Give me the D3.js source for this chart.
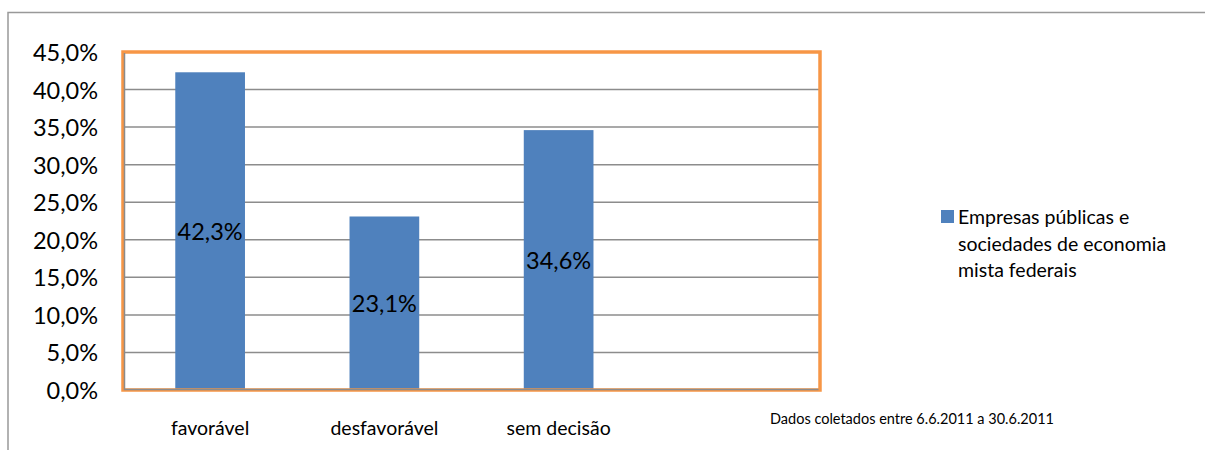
<!DOCTYPE html>
<html>
<head>
<meta charset="utf-8">
<script src="https://cdn.jsdelivr.net/npm/d3@7/dist/d3.min.js"></script>
<style>
  html, body { margin: 0; padding: 0; background: #fff; }
  svg { display: block; font-family: Lato, "Open Sans", sans-serif; }
</style>
</head>
<body>
<svg id="chart" width="1205" height="450"></svg>
<script>
// Opinião das empresas (percentual por categoria)
const categories = ["favorável", "desfavorável", "sem decisão", ""];
const values = [42.3, 23.1, 34.6, null];
const valueLabels = ["42,3%", "23,1%", "34,6%", null];
const yTicks = [0, 5, 10, 15, 20, 25, 30, 35, 40, 45];
const seriesName = ["Empresas públicas e", "sociedades de economia", "mista federais"];
const footnote = "Dados coletados entre 6.6.2011 a 30.6.2011";

const svg = d3.select("#chart");
const plot = { left: 123, right: 820, top: 52, bottom: 390 };

// outer chart frame (top and left edges visible)
svg.append("path")
  .attr("d", "M8,450 V12.5 H1205")
  .attr("fill", "none").attr("stroke", "#999").attr("stroke-width", 1.5);

const x = d3.scaleBand().domain(categories.map((c, i) => i))
  .range([plot.left, plot.right]).paddingInner(0.6).paddingOuter(0.3);
const y = d3.scaleLinear().domain([0, 45]).range([plot.bottom, plot.top]);

// gridlines
svg.append("g").selectAll("line").data(yTicks.filter(t => t > 0 && t < 45)).join("line")
  .attr("x1", plot.left).attr("x2", plot.right)
  .attr("y1", d => y(d)).attr("y2", d => y(d))
  .attr("stroke", "#8c8c8c").attr("stroke-width", 1.5);

// y-axis labels
const fmt = d => d.toFixed(1).replace(".", ",") + "%";
const yAxis = d3.axisLeft(y).tickValues(yTicks).tickFormat(fmt).tickSize(0).tickPadding(0);
const yg = svg.append("g").attr("transform", `translate(98,0)`).call(yAxis);
yg.select(".domain").remove();
yg.selectAll("text").attr("font-size", 23.5).attr("fill", "#000")
  .attr("font-family", "Lato, 'Open Sans', sans-serif").attr("dy", "0.36em");

// bars
const barData = values.map((v, i) => ({ i, v, label: valueLabels[i] })).filter(d => d.v != null);
svg.append("g").selectAll("rect").data(barData).join("rect")
  .attr("x", d => x(d.i)).attr("width", x.bandwidth())
  .attr("y", d => y(d.v)).attr("height", d => y(0) - y(d.v))
  .attr("fill", "#4F81BD");

// value labels centered in bars
svg.append("g").selectAll("text").data(barData).join("text")
  .attr("x", d => x(d.i) + x.bandwidth() / 2)
  .attr("y", d => y(d.v / 2))
  .attr("dy", "0.36em")
  .attr("text-anchor", "middle")
  .attr("font-size", 23.5)
  .attr("fill", "#000")
  .text(d => d.label);

// plot area border: gray axis lines inside an orange frame
svg.append("rect")
  .attr("x", plot.left).attr("y", plot.top)
  .attr("width", plot.right - plot.left).attr("height", plot.bottom - plot.top)
  .attr("fill", "none").attr("stroke", "#F79646").attr("stroke-width", 3.5);
svg.append("path")
  .attr("d", `M${plot.left + 1.5},${plot.top + 1} V${plot.bottom - 0.5} H${plot.right - 1.5}`)
  .attr("fill", "none").attr("stroke", "#8c8c8c").attr("stroke-width", 1.5);

// category labels
const xAxis = d3.axisBottom(x).tickFormat(i => categories[i]).tickSize(0).tickPadding(0);
const xg = svg.append("g").attr("transform", `translate(0,428)`).call(xAxis);
xg.select(".domain").remove();
xg.selectAll("text").attr("font-size", 19.5).attr("fill", "#000")
  .attr("font-family", "Lato, 'Open Sans', sans-serif").attr("dy", "0.36em");

// legend
const lg = svg.append("g");
lg.append("rect").attr("x", 941).attr("y", 210).attr("width", 13).attr("height", 13).attr("fill", "#4F81BD");
lg.selectAll("text").data(seriesName).join("text")
  .attr("x", 958).attr("y", (d, i) => 217 + i * 26.5)
  .attr("dy", "0.36em").attr("font-size", 19.5).attr("fill", "#000")
  .text(d => d);

// footnote
svg.append("text").attr("x", 770).attr("y", 419).attr("dy", "0.36em")
  .attr("font-size", 14.5).attr("fill", "#000").text(footnote);
</script>
</body>
</html>
